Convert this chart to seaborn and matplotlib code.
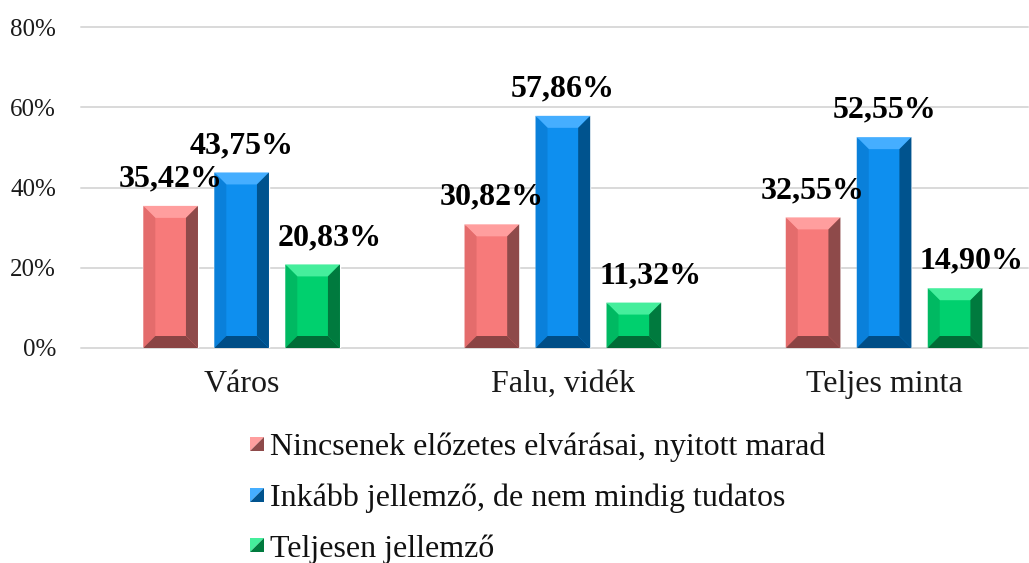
import pandas as pd
import matplotlib
matplotlib.use("Agg")
import matplotlib.pyplot as plt
import seaborn as sns
from matplotlib.patches import Polygon
from matplotlib.transforms import IdentityTransform
from matplotlib.legend_handler import HandlerBase

# ---- Data ----
categories = ["Város", "Falu, vidék", "Teljes minta"]
series = ["Nincsenek előzetes elvárásai, nyitott marad",
          "Inkább jellemző, de nem mindig tudatos",
          "Teljesen jellemző"]
nyitott = [0.3542, 0.3082, 0.3255]
inkabb = [0.4375, 0.5786, 0.5255]
teljesen = [0.2083, 0.1132, 0.1490]
tick_labels = ["0%", "20%", "40%", "60%", "80%"]

# colours: front, top, left, right, bottom
shades = {
    series[0]: ["#F77A7A", "#FF9E9E", "#E46C6C", "#8E4A4A", "#8A4444"],
    series[1]: ["#0E8FEF", "#45AEFF", "#0A80DA", "#00538E", "#004D86"],
    series[2]: ["#00D06E", "#45EE9C", "#00B962", "#007A3E", "#006C36"],
}

df = pd.DataFrame({
    "cat": categories * 3,
    "series": [series[0]] * 3 + [series[1]] * 3 + [series[2]] * 3,
    "val": nyitott + inkabb + teljesen,
})

sns.set_style("white")
plt.rcParams["font.family"] = ["Liberation Serif", "DejaVu Serif"]

fig = plt.figure(figsize=(10.29, 5.63), dpi=100)
ax = fig.add_axes([81 / 1029, 1 - 348 / 563, (1028 - 81) / 1029, (348 - 27) / 563])

sns.barplot(data=df, x="cat", y="val", hue="series", order=categories, hue_order=series,
            palette={s: shades[s][0] for s in series}, width=0.663, gap=0.23,
            legend=False, ax=ax, saturation=1, zorder=2)

ax.set_xlim(-0.5, 2.448)
ax.set_ylim(0, 0.8)
ax.set_yticks([0, 0.2, 0.4, 0.6, 0.8])
ax.set_yticklabels(tick_labels)
ax.yaxis.grid(True, color="#D9D9D9", linewidth=1.4)
ax.set_axisbelow(True)
for sp in ax.spines.values():
    sp.set_visible(False)
ax.tick_params(axis="y", length=0, pad=18, labelsize=18, labelcolor="#1A1A1A")
ax.tick_params(axis="x", length=0, pad=16, labelsize=23, labelcolor="#1A1A1A")
ax.set_xlabel("")
ax.set_ylabel("")
for g in ax.get_ygridlines():
    g.set_clip_on(False)

# bevel effect on each bar
b = 12
for s, cont in zip(series, ax.containers):
    cols = shades[s]
    for rect in cont:
        x0, y0 = ax.transData.transform((rect.get_x(), rect.get_y()))
        x1, y1 = ax.transData.transform((rect.get_x() + rect.get_width(), rect.get_y() + rect.get_height()))
        faces = [
            ([(x0, y1), (x1, y1), (x1 - b, y1 - b), (x0 + b, y1 - b)], cols[1]),
            ([(x0, y0), (x0, y1), (x0 + b, y1 - b), (x0 + b, y0 + b)], cols[2]),
            ([(x1, y0), (x1, y1), (x1 - b, y1 - b), (x1 - b, y0 + b)], cols[3]),
            ([(x0, y0), (x1, y0), (x1 - b, y0 + b), (x0 + b, y0 + b)], cols[4]),
        ]
        for pts, c in faces:
            ax.add_artist(Polygon(pts, closed=True, facecolor=c, edgecolor="none",
                                  transform=IdentityTransform(), clip_on=False, zorder=3))

# data labels
for i, (s, cont) in enumerate(zip(series, ax.containers)):
    dx = 12 if i == 2 else 0
    for rect in cont:
        v = rect.get_height()
        ax.annotate(f"{v * 100:.2f}%".replace(".", ","),
                    (rect.get_x() + rect.get_width() / 2, v),
                    xytext=(dx, 14), textcoords="offset points",
                    ha="center", va="baseline", fontsize=23, fontweight="bold",
                    color="black", zorder=5)


# legend with bevelled squares
class BevelHandler(HandlerBase):
    def __init__(self, light, dark):
        super().__init__()
        self.light = light
        self.dark = dark

    def create_artists(self, legend, orig_handle, xdescent, ydescent, width, height, fontsize, trans):
        s = min(width, height)
        x0, y0 = -xdescent + (width - s) / 2, -ydescent + (height - s) / 2
        t1 = Polygon([(x0, y0), (x0, y0 + s), (x0 + s, y0 + s)], closed=True,
                     facecolor=self.light, edgecolor="none", transform=trans)
        t2 = Polygon([(x0, y0), (x0 + s, y0), (x0 + s, y0 + s)], closed=True,
                     facecolor=self.dark, edgecolor="none", transform=trans)
        return [t1, t2]


handles = [plt.Rectangle((0, 0), 1, 1, color=shades[s][0]) for s in series]
hmap = {h: BevelHandler(shades[s][1], shades[s][3]) for h, s in zip(handles, series)}
fig.legend(handles, series, handler_map=hmap, loc="upper left",
           bbox_to_anchor=(250 / 1029, 1 - 433 / 563), frameon=False,
           fontsize=23, handlelength=0.43, handleheight=0.43, handletextpad=0.2,
           labelspacing=0.66, borderaxespad=0, borderpad=0, labelcolor="#111111")

fig.savefig("out.png", dpi=100)
